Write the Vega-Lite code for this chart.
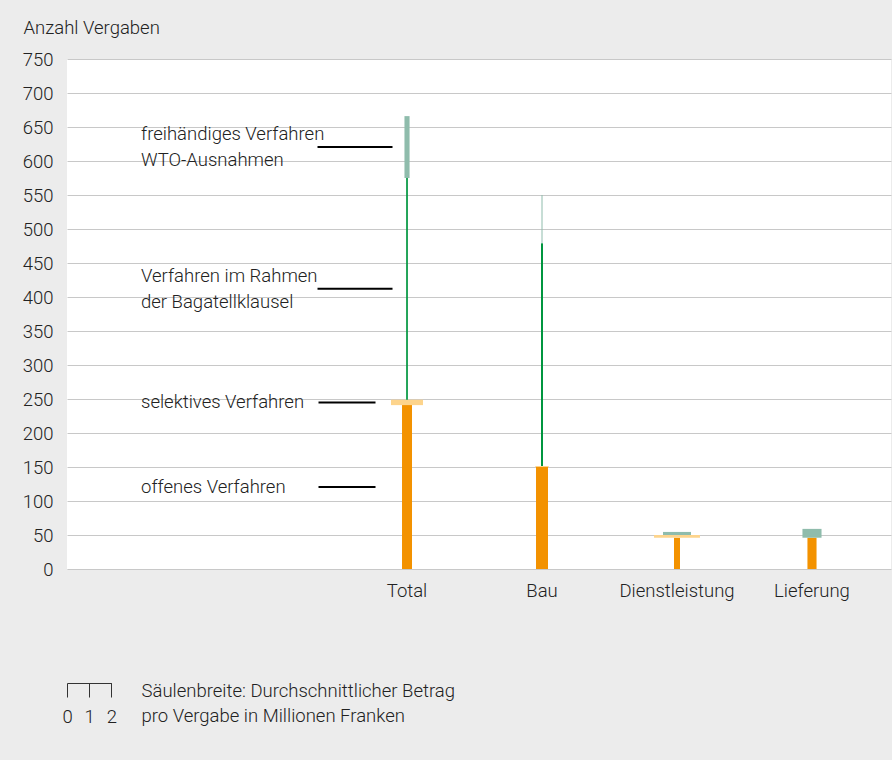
{
  "$schema": "https://vega.github.io/schema/vega-lite/v6.json",
  "width": 824,
  "height": 510,
  "autosize": {"type": "none"},
  "padding": {"left": 67, "top": 59, "right": 1, "bottom": 191},
  "background": "#ececec",
  "config": {
    "view": {"fill": "white", "stroke": null},
    "font": "Roboto",
    "text": {"font": "Roboto"}
  },
  "data": {
    "values": [
      {"kategorie": "Total", "verfahren": "offenes Verfahren", "reihe": 1, "anzahl": 241, "breite": 0.45},
      {"kategorie": "Total", "verfahren": "selektives Verfahren", "reihe": 2, "anzahl": 8, "breite": 1.44},
      {"kategorie": "Total", "verfahren": "Verfahren im Rahmen\nder Bagatellklausel", "reihe": 3, "anzahl": 326, "breite": 0.077},
      {"kategorie": "Total", "verfahren": "freihändiges Verfahren\nWTO-Ausnahmen", "reihe": 4, "anzahl": 91, "breite": 0.23},
      {"kategorie": "Bau", "verfahren": "offenes Verfahren", "reihe": 1, "anzahl": 150, "breite": 0.54},
      {"kategorie": "Bau", "verfahren": "selektives Verfahren", "reihe": 2, "anzahl": 1.5, "breite": 0.6},
      {"kategorie": "Bau", "verfahren": "Verfahren im Rahmen\nder Bagatellklausel", "reihe": 3, "anzahl": 327.5, "breite": 0.09},
      {"kategorie": "Bau", "verfahren": "freihändiges Verfahren\nWTO-Ausnahmen", "reihe": 4, "anzahl": 71, "breite": 0.045},
      {"kategorie": "Dienstleistung", "verfahren": "offenes Verfahren", "reihe": 1, "anzahl": 46, "breite": 0.27},
      {"kategorie": "Dienstleistung", "verfahren": "selektives Verfahren", "reihe": 2, "anzahl": 4, "breite": 2.07},
      {"kategorie": "Dienstleistung", "verfahren": "freihändiges Verfahren\nWTO-Ausnahmen", "reihe": 4, "anzahl": 4.5, "breite": 1.26},
      {"kategorie": "Lieferung", "verfahren": "offenes Verfahren", "reihe": 1, "anzahl": 46, "breite": 0.41},
      {"kategorie": "Lieferung", "verfahren": "freihändiges Verfahren\nWTO-Ausnahmen", "reihe": 4, "anzahl": 13, "breite": 0.86}
    ]
  },
  "layer": [
    {
      "transform": [
        {"stack": "anzahl", "groupby": ["kategorie"], "sort": [{"field": "reihe", "order": "ascending"}], "as": ["y0", "y1"]},
        {"calculate": "(datum.y0 + datum.y1) / 2", "as": "mitte"}
      ],
      "layer": [
        {
          "mark": {"type": "bar"},
          "encoding": {
            "x": {
              "field": "kategorie",
              "type": "nominal",
              "sort": null,
              "scale": {"type": "band", "domain": ["_1", "_2", "Total", "Bau", "Dienstleistung", "Lieferung"], "paddingInner": 0, "paddingOuter": 0.052, "align": 0.18},
              "axis": {
                "title": null,
                "labelExpr": "indexof(['Total','Bau','Dienstleistung','Lieferung'], datum.value) >= 0 ? datum.value : ''",
                "ticks": false,
                "domain": false,
                "grid": false,
                "labelAngle": 0,
                "labelPadding": 12,
                "labelFontSize": 18.5,
                "labelFont": "Roboto",
                "labelFontWeight": 300,
                "labelColor": "#222222"
              }
            },
            "y": {
              "field": "y1",
              "type": "quantitative",
              "scale": {"domain": [0, 750], "nice": false},
              "axis": {
                "title": "Anzahl Vergaben",
                "values": [0, 50, 100, 150, 200, 250, 300, 350, 400, 450, 500, 550, 600, 650, 700, 750],
                "tickCount": 30,
                "labelOverlap": false,
                "grid": true,
                "gridColor": "#c8c8c8",
                "gridWidth": 1,
                "domain": false,
                "ticks": false,
                "tickSize": 0,
                "labelPadding": 14,
                "labelFontSize": 18.5,
                "labelFont": "Roboto",
                "labelFontWeight": 300,
                "labelColor": "#222222",
                "titleAngle": 0,
                "titleAlign": "left",
                "titleBaseline": "alphabetic",
                "titleX": -44,
                "titleY": -26,
                "titleFont": "Roboto",
                "titleFontSize": 18.5,
                "titleFontWeight": 300,
                "titleColor": "#222222"
              }
            },
            "y2": {"field": "y0"},
            "size": {
              "field": "breite",
              "type": "quantitative",
              "scale": {"domain": [0, 2], "range": [0, 44.4], "zero": true, "nice": false},
              "legend": null
            },
            "color": {
              "field": "verfahren",
              "type": "nominal",
              "scale": {
                "domain": ["offenes Verfahren", "selektives Verfahren", "Verfahren im Rahmen\nder Bagatellklausel", "freihändiges Verfahren\nWTO-Ausnahmen"],
                "range": ["#f39200", "#fdd48c", "#00963f", "#8fbcac"]
              },
              "legend": null
            }
          }
        },
        {
          "transform": [{"filter": "datum.kategorie === 'Total' && datum.reihe >= 3"}],
          "mark": {"type": "text", "align": "left", "baseline": "middle", "dx": 4, "dy": -13, "lineBreak": "\n", "lineHeight": 26, "fontSize": 18.5, "fontWeight": 300, "font": "Roboto", "color": "#222222"},
          "encoding": {
            "x": {"datum": "_1", "type": "nominal"},
            "y": {"field": "mitte", "type": "quantitative", "axis": {"title": "Anzahl Vergaben", "values": [0, 50, 100, 150, 200, 250, 300, 350, 400, 450, 500, 550, 600, 650, 700, 750], "tickCount": 30}},
            "text": {"field": "verfahren"}
          }
        },
        {
          "transform": [{"filter": "datum.kategorie === 'Total' && datum.reihe <= 2"}],
          "mark": {"type": "text", "align": "left", "baseline": "middle", "dx": 4, "fontSize": 18.5, "fontWeight": 300, "font": "Roboto", "color": "#222222"},
          "encoding": {
            "x": {"datum": "_1", "type": "nominal"},
            "y": {"field": "mitte", "type": "quantitative", "axis": {"title": "Anzahl Vergaben", "values": [0, 50, 100, 150, 200, 250, 300, 350, 400, 450, 500, 550, 600, 650, 700, 750], "tickCount": 30}},
            "text": {"field": "verfahren"}
          }
        },
        {
          "transform": [{"filter": "datum.kategorie === 'Total' && datum.reihe >= 3"}],
          "mark": {"type": "tick", "orient": "horizontal", "thickness": 2, "size": 75, "xOffset": -52, "color": "#000000", "opacity": 1},
          "encoding": {
            "x": {"field": "kategorie", "type": "nominal"},
            "y": {"field": "mitte", "type": "quantitative", "axis": {"title": "Anzahl Vergaben", "values": [0, 50, 100, 150, 200, 250, 300, 350, 400, 450, 500, 550, 600, 650, 700, 750], "tickCount": 30}}
          }
        },
        {
          "transform": [{"filter": "datum.kategorie === 'Total' && datum.reihe <= 2"}],
          "mark": {"type": "tick", "orient": "horizontal", "thickness": 2, "size": 57, "xOffset": -60, "color": "#000000", "opacity": 1},
          "encoding": {
            "x": {"field": "kategorie", "type": "nominal"},
            "y": {"field": "mitte", "type": "quantitative", "axis": {"title": "Anzahl Vergaben", "values": [0, 50, 100, 150, 200, 250, 300, 350, 400, 450, 500, 550, 600, 650, 700, 750], "tickCount": 30}}
          }
        }
      ]
    },
    {
      "mark": {"type": "rule", "opacity": 0},
      "encoding": {
        "x": {
          "field": "breite",
          "type": "quantitative",
          "scale": {"domain": [0, 2], "range": [0, 44.4], "nice": false, "zero": true},
          "axis": {
            "orient": "bottom",
            "offset": 114,
            "tickCount": 2,
            "format": "d",
            "grid": false,
            "domain": true,
            "domainColor": "#333333",
            "domainWidth": 1,
            "ticks": true,
            "tickSize": 14,
            "tickColor": "#333333",
            "tickWidth": 1,
            "labelPadding": 10,
            "labelFlush": false,
            "labelOverlap": false,
            "labelBound": false,
            "labelFontSize": 18.5,
            "labelFont": "Roboto",
            "labelFontWeight": 300,
            "labelColor": "#222222",
            "title": ["Säulenbreite: Durchschnittlicher Betrag", "pro Vergabe in Millionen Franken"],
            "titleX": 74,
            "titleY": 13,
            "titleAlign": "left",
            "titleAnchor": "start",
            "titleBaseline": "alphabetic",
            "titleLineHeight": 25,
            "titleFont": "Roboto",
            "titleFontSize": 18.5,
            "titleFontWeight": 300,
            "titleColor": "#222222"
          }
        }
      }
    }
  ],
  "resolve": {"scale": {"x": "independent"}, "axis": {"x": "independent"}}
}
